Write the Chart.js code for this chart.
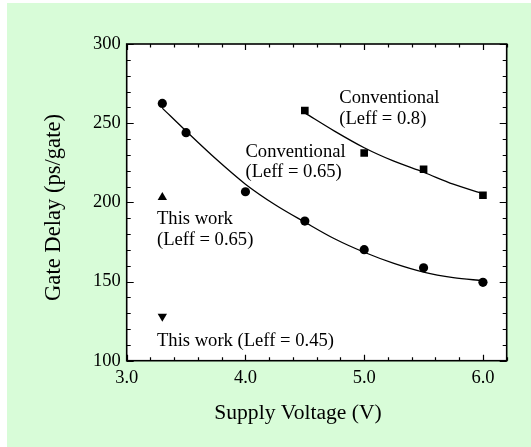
<!DOCTYPE html>
<html>
<head>
<meta charset="utf-8">
<script src="https://cdn.jsdelivr.net/npm/chart.js@4.4.1/dist/chart.umd.min.js"></script>
<style>
  html, body { margin: 0; padding: 0; background: #ffffff; }
  #wrap { width: 531px; height: 447px; }
</style>
</head>
<body>
<div id="wrap"><canvas id="c" width="531" height="447"></canvas></div>
<script>
// Measured gate delay (ps/gate) against supply voltage (V)
const conv065Voltage = [3.3, 3.5, 4.0, 4.5, 5.0, 5.5, 6.0];
const conv065Delay   = [262.5, 244, 206.7, 188.2, 170.1, 158.7, 149.5];

const conv08Voltage = [4.5, 5.0, 5.5, 6.0];
const conv08Delay   = [258, 231.2, 220.9, 204.5];

const thisWork065Voltage = [3.3];
const thisWork065Delay   = [203.2];

const thisWork045Voltage = [3.3];
const thisWork045Delay   = [128];

// Fitted trend curves
const fit065Voltage = [3.3, 3.5, 3.75, 4.0, 4.25, 4.5, 4.75, 5.0, 5.25, 5.5, 5.75, 6.0];
const fit065Delay   = [259.5, 245, 227.5, 211.5, 198.5, 187.5, 177, 168.5, 161.5, 156, 152.5, 150.5];

const fit08Voltage = [4.5, 4.75, 5.0, 5.25, 5.5, 5.75, 6.0];
const fit08Delay   = [256.5, 245, 234.5, 226, 219, 211.5, 205.5];

// Axis tick labels
const xTickValues = [3.0, 4.0, 5.0, 6.0];
const yTickValues = [100, 150, 200, 250, 300];

// Text notes placed in data coordinates (left edge, baseline of first line)
const notes = [
  { lines: ['Conventional', '(Leff = 0.8)'],  x: 4.79,  y: 262.6 },
  { lines: ['Conventional', '(Leff = 0.65)'], x: 4.0,   y: 228.8 },
  { lines: ['This work', '(Leff = 0.65)'],    x: 3.255, y: 186.3 },
  { lines: ['This work (Leff = 0.45)'],       x: 3.255, y: 109.5 }
];

const SERIF = '"Liberation Serif", "Times New Roman", serif';

function pts(xs, ys) { return xs.map((v, i) => ({ x: v, y: ys[i] })); }

const backgroundPlugin = {
  id: 'panelBackground',
  beforeDraw(chart) {
    const { ctx, chartArea: a } = chart;
    ctx.save();
    ctx.fillStyle = '#ffffff';
    ctx.fillRect(0, 0, chart.width, chart.height);
    ctx.fillStyle = '#d8fcd8';
    ctx.fillRect(7, 3, chart.width - 7, chart.height - 3);
    ctx.fillStyle = '#ffffff';
    ctx.fillRect(a.left, a.top, a.right - a.left, a.bottom - a.top);
    ctx.restore();
  }
};

const framePlugin = {
  id: 'frameAndTicks',
  afterDraw(chart) {
    const { ctx, chartArea: a, scales: { x, y } } = chart;
    ctx.save();
    ctx.strokeStyle = '#000';
    ctx.lineWidth = 1.2;
    ctx.beginPath();
    // x ticks every 0.2, major every 1.0 (bottom and top, pointing inward)
    for (let i = 0; i <= 16; i++) {
      const v = 3 + i * 0.2;
      const major = Math.abs(v - Math.round(v)) < 1e-6;
      const len = major ? 6 : 3.5;
      const px = Math.round(x.getPixelForValue(v)) + 0.5;
      ctx.moveTo(px, a.bottom); ctx.lineTo(px, a.bottom - len);
      ctx.moveTo(px, a.top);    ctx.lineTo(px, a.top + len);
    }
    // y ticks every 10, major every 50 (left and right, pointing inward)
    for (let v = 100; v <= 300; v += 10) {
      const major = v % 50 === 0;
      const len = major ? 7 : 4;
      const py = Math.round(y.getPixelForValue(v)) + 0.5;
      ctx.moveTo(a.left, py);  ctx.lineTo(a.left + len, py);
      ctx.moveTo(a.right, py); ctx.lineTo(a.right - len, py);
    }
    ctx.stroke();
    ctx.lineWidth = 1.6;
    ctx.strokeRect(a.left, a.top, a.right - a.left, a.bottom - a.top);

    // axis titles
    ctx.fillStyle = '#000';
    ctx.textAlign = 'center';
    ctx.textBaseline = 'alphabetic';
    ctx.font = '21.6px ' + SERIF;
    ctx.fillText('Supply Voltage (V)', 298, 418.5);
    ctx.font = '22.6px ' + SERIF;
    ctx.translate(60, 207.5);
    ctx.rotate(-Math.PI / 2);
    ctx.fillText('Gate Delay (ps/gate)', 0, 0);
    ctx.restore();
  }
};

const notesPlugin = {
  id: 'notes',
  afterDatasetsDraw(chart) {
    const { ctx, scales: { x, y } } = chart;
    ctx.save();
    ctx.font = '18.6px ' + SERIF;
    ctx.fillStyle = '#000';
    ctx.textAlign = 'left';
    ctx.textBaseline = 'alphabetic';
    notes.forEach(n => {
      const px = x.getPixelForValue(n.x);
      const py = y.getPixelForValue(n.y);
      n.lines.forEach((t, i) => ctx.fillText(t, px, py + i * 20.7));
    });
    ctx.restore();
  }
};

const lineStyle = {
  showLine: true, borderColor: '#000', borderWidth: 1.3, pointRadius: 0,
  cubicInterpolationMode: 'monotone', fill: false
};

new Chart(document.getElementById('c'), {
  type: 'scatter',
  data: {
    datasets: [
      Object.assign({ label: 'fit 0.65', data: pts(fit065Voltage, fit065Delay) }, lineStyle),
      Object.assign({ label: 'fit 0.8',  data: pts(fit08Voltage, fit08Delay) }, lineStyle),
      { label: 'Conventional (Leff = 0.65)', data: pts(conv065Voltage, conv065Delay),
        pointStyle: 'circle', pointRadius: 4.6, backgroundColor: '#000', borderColor: '#000', borderWidth: 0 },
      { label: 'Conventional (Leff = 0.8)', data: pts(conv08Voltage, conv08Delay),
        pointStyle: 'rect', pointRadius: 5.4, backgroundColor: '#000', borderColor: '#000', borderWidth: 0 },
      { label: 'This work (Leff = 0.65)', data: pts(thisWork065Voltage, thisWork065Delay),
        pointStyle: 'triangle', pointRadius: 5.4, backgroundColor: '#000', borderColor: '#000', borderWidth: 0 },
      { label: 'This work (Leff = 0.45)', data: pts(thisWork045Voltage, thisWork045Delay),
        pointStyle: 'triangle', rotation: 180, pointRadius: 5.4, backgroundColor: '#000', borderColor: '#000', borderWidth: 0 }
    ]
  },
  options: {
    responsive: false,
    animation: false,
    devicePixelRatio: 1,
    layout: { padding: { left: 0, top: 44, right: 24.3, bottom: 0 } },
    plugins: { legend: { display: false }, tooltip: { enabled: false } },
    scales: {
      x: {
        type: 'linear', min: 3.0, max: 6.2,
        grid: { display: false, drawTicks: false },
        border: { display: false },
        afterBuildTicks: s => { s.ticks = xTickValues.map(v => ({ value: v })); },
        afterFit: s => { s.height = 86.3; },
        ticks: {
          padding: 6, autoSkip: false, maxRotation: 0, color: '#000',
          font: { family: SERIF, size: 18.5 },
          callback: v => Number(v).toFixed(1)
        }
      },
      y: {
        type: 'linear', min: 100, max: 300,
        grid: { display: false, drawTicks: false },
        border: { display: false },
        afterBuildTicks: s => { s.ticks = yTickValues.map(v => ({ value: v })); },
        afterFit: s => { s.width = 126.7; },
        ticks: {
          padding: 6, color: '#000',
          font: { family: SERIF, size: 18.5 },
          callback: v => String(v)
        }
      }
    }
  },
  plugins: [backgroundPlugin, notesPlugin, framePlugin]
});
</script>
</body>
</html>
